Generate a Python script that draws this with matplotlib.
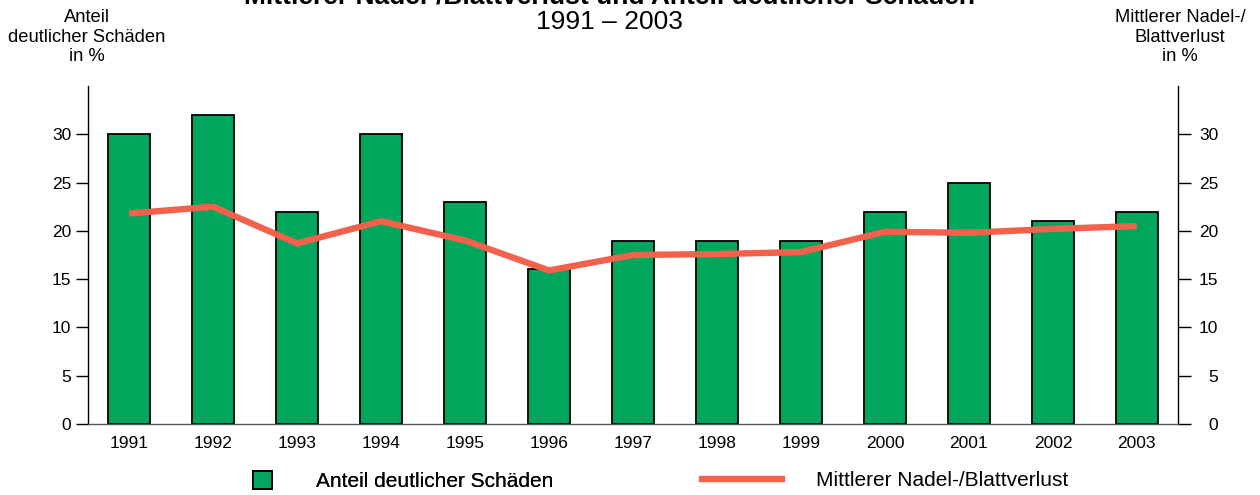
import matplotlib
matplotlib.use("Agg")
import matplotlib.pyplot as plt
from matplotlib.patches import Patch
from matplotlib.lines import Line2D
from matplotlib.transforms import ScaledTranslation

plt.rcParams['font.family'] = ['Liberation Sans', 'DejaVu Sans']

years = ["1991", "1992", "1993", "1994", "1995", "1996", "1997",
         "1998", "1999", "2000", "2001", "2002", "2003"]
anteil_schaeden = [30, 32, 22, 30, 23, 16, 19, 19, 19, 22, 25, 21, 22]
mittlerer_verlust = [21.8, 22.5, 18.7, 21.0, 19.0, 15.9, 17.5, 17.6, 17.8,
                     19.9, 19.8, 20.2, 20.5]
y_ticks = [0, 5, 10, 15, 20, 25, 30]

bar_color = "#00A65C"
line_color = "#F2614C"
W, H = 1260, 495

fig = plt.figure(figsize=(W / 100, H / 100), dpi=100)
ax = fig.add_axes([88 / W, 1 - 424 / H, (1178 - 88) / W, (424 - 86) / H])

x = list(range(len(years)))
ax.bar(x, anteil_schaeden, width=0.5, color=bar_color, edgecolor="black",
       linewidth=1.3, zorder=2)
ax.plot(x, mittlerer_verlust, color=line_color, linewidth=4.6,
        solid_joinstyle="miter", solid_capstyle="butt", zorder=3)

ax.set_xlim(-0.49, len(years) - 0.51)
ax.set_ylim(0, 35)
ax.set_xticks(x)
ax.set_xticklabels(years, fontsize=12.5)
ax.set_yticks(y_ticks)
ax.tick_params(axis="x", length=0, pad=9)
ax.tick_params(axis="y", length=9, width=1, pad=3, labelsize=12.5,
               left=True, right=True, labelleft=True, labelright=True)

# right-hand labels sit right-aligned in a column beside the secondary scale
shift = ScaledTranslation(0.235, 0, fig.dpi_scale_trans)
for tick in ax.yaxis.get_major_ticks():
    tick.label2.set_horizontalalignment("right")
    tick.label2.set_transform(tick.label2.get_transform() + shift)

ax.spines["top"].set_visible(False)
ax.spines["bottom"].set_color("#555555")
ax.spines["bottom"].set_linewidth(1)
for side in ("left", "right"):
    ax.spines[side].set_linewidth(1)

title_x = 609 / W
fig.text(title_x, 1 - 4 / H, "Mittlerer Nadel-/Blattverlust und Anteil deutlicher Schäden",
         ha="center", va="baseline", fontsize=19, fontweight="bold")
fig.text(title_x, 1 - 22 / H, "1991 – 2003", ha="center", va="center", fontsize=19)

fig.text(87 / W, 1 - 37 / H, "Anteil\ndeutlicher Schäden\nin %",
         ha="center", va="center", fontsize=13.2, linespacing=1.2)
fig.text(1180 / W, 1 - 37 / H, "Mittlerer Nadel-/\nBlattverlust\nin %",
         ha="center", va="center", fontsize=13.2, linespacing=1.2)

leg1 = fig.legend(handles=[Patch(facecolor=bar_color, edgecolor="black", linewidth=1.3)],
                  labels=["Anteil deutlicher Schäden"],
                  loc="center left", bbox_to_anchor=(253 / W, 1 - 481 / H),
                  frameon=False, fontsize=15, borderpad=0, borderaxespad=0,
                  handlelength=0.92, handleheight=0.96, handletextpad=2.1)
leg2 = fig.legend(handles=[Line2D([0], [0], color=line_color, linewidth=4.6)],
                  labels=["Mittlerer Nadel-/Blattverlust"],
                  loc="center left", bbox_to_anchor=(702 / W, 1 - 481 / H),
                  frameon=False, fontsize=15, borderpad=0, borderaxespad=0,
                  handlelength=3.85, handletextpad=1.6)
fig.add_artist(leg1)

fig.savefig("out.png", dpi=100)
